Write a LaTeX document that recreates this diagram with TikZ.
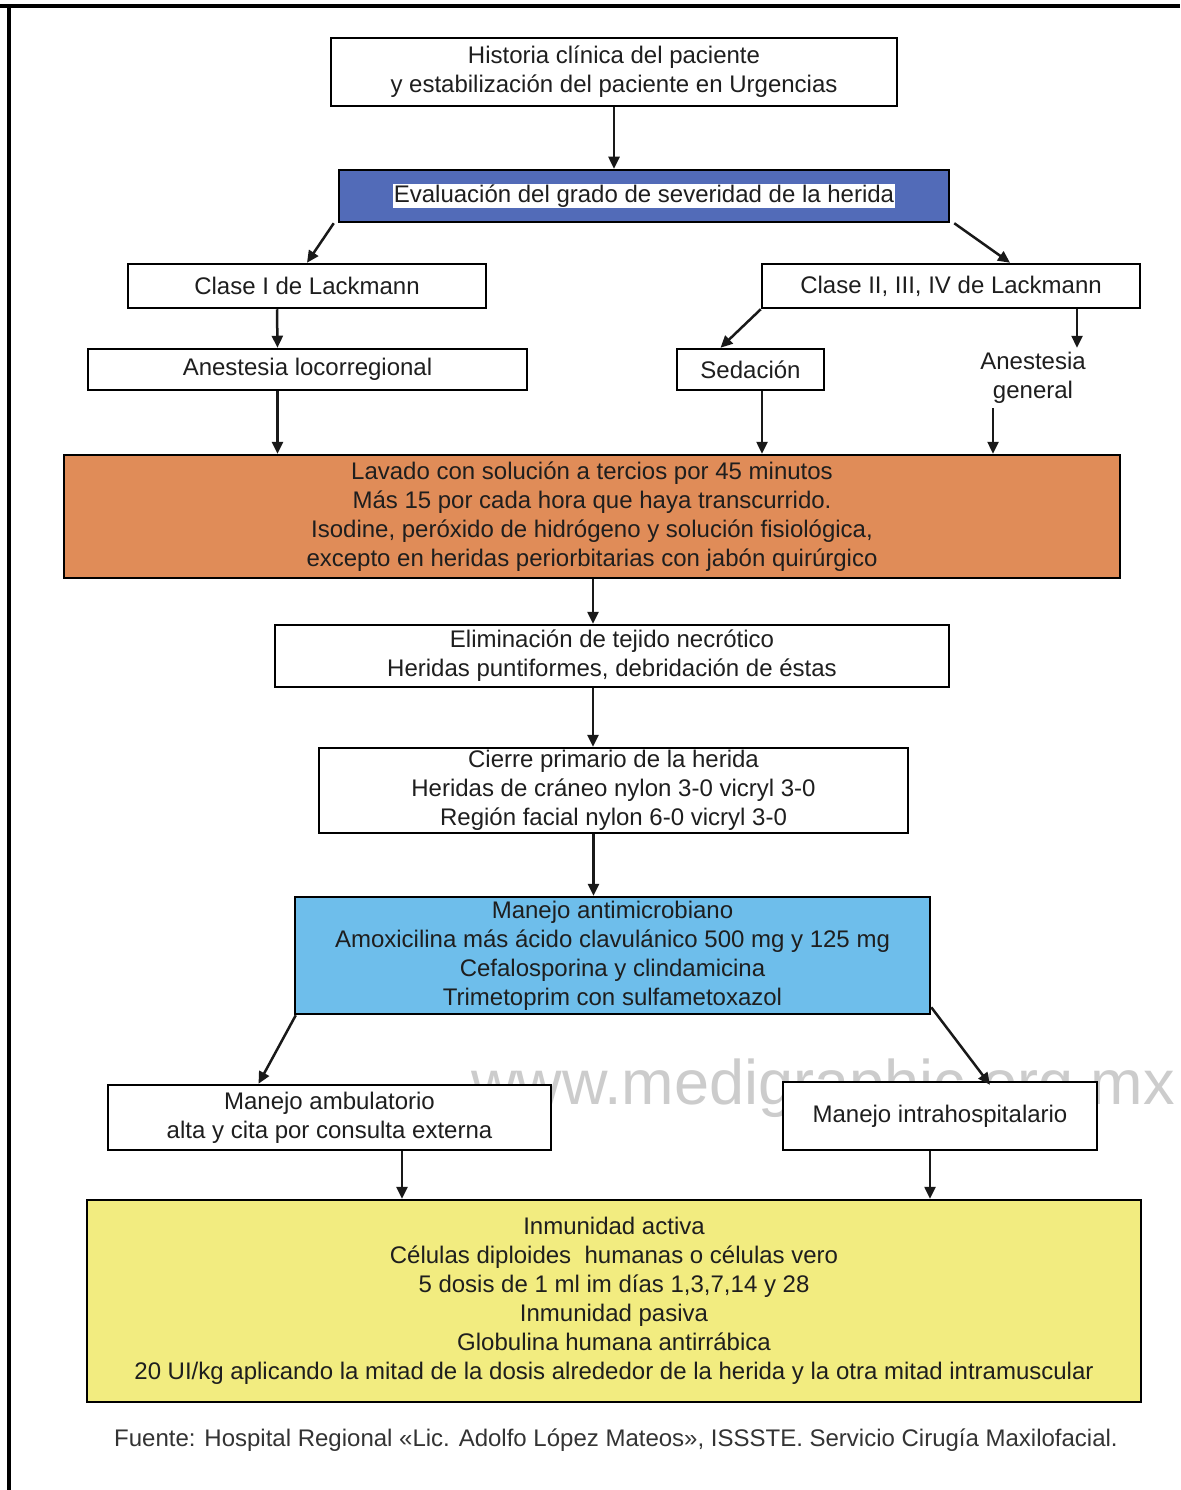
\documentclass[tikz,border=0pt]{standalone}
\usepackage{fontspec}
\setmainfont{Liberation Sans}
\usetikzlibrary{arrows.meta}
\definecolor{evblue}{RGB}{82,107,184}
\definecolor{lavorange}{RGB}{224,140,88}
\definecolor{manblue}{RGB}{110,190,235}
\definecolor{inmyellow}{RGB}{242,236,128}
\definecolor{txt}{RGB}{30,30,30}
\begin{document}
\begin{tikzpicture}[x=1pt,y=-1pt,
  box/.style={draw=black, line width=2.5pt, fill=white, align=center,
    font=\fontsize{24}{29}\selectfont, inner sep=0pt, text=txt},
  arr/.style={line width=2.5pt, draw=black!90, -{Triangle[length=12pt,width=11pt]}}]
\useasboundingbox (0,0) rectangle (1180,1490);
\fill[white] (0,0) rectangle (1180,1490);
\draw[line width=4pt] (0,6) -- (1180,6);
\draw[line width=4pt] (9,6) -- (9,1490);

% watermark
\node[text=black!20, font=\fontsize{63}{64}\selectfont, inner sep=0pt] (wm) at (823,1088) {www.medigraphic.org.mx};

\node[box, minimum width=566pt, minimum height=68pt] (h1) at (614,72)
  {Historia clínica del paciente\\y estabilización del paciente en Urgencias};
\node[box, fill=evblue, minimum width=610pt, minimum height=52pt] (ev) at (644,196)
  {\setlength{\fboxsep}{1pt}\colorbox{white}{Evaluación del grado de severidad de la herida}};
\node[box, minimum width=358pt, minimum height=44pt] (c1) at (307,286) {Clase I de Lackmann};
\node[box, minimum width=378pt, minimum height=44pt] (c2) at (951,286) {Clase II, III, IV de Lackmann};
\node[box, minimum width=439pt, minimum height=41pt] (al) at (307.5,369.5) {Anestesia locorregional};
\node[box, minimum width=147pt, minimum height=41pt] (sed) at (750.5,369.5) {Sedación};
\node[box, draw=none, fill=none, minimum height=58pt] (ag) at (1033,378) {Anestesia\\general};
\node[box, fill=lavorange, minimum width=1056pt, minimum height=123pt] (lav) at (592,516.5)
  {Lavado con solución a tercios por 45 minutos\\
   Más 15 por cada hora que haya transcurrido.\\
   Isodine, peróxido de hidrógeno y solución fisiológica,\\
   excepto en heridas periorbitarias con jabón quirúrgico};
\node[box, minimum width=674pt, minimum height=62pt] (eli) at (612,656)
  {Eliminación de tejido necrótico\\Heridas puntiformes, debridación de éstas};
\node[box, minimum width=589pt, minimum height=85pt] (cie) at (613.5,790.5)
  {Cierre primario de la herida\\Heridas de cráneo nylon 3-0 vicryl 3-0\\Región facial nylon 6-0 vicryl 3-0};
\node[box, fill=manblue, minimum width=635pt, minimum height=117pt] (man) at (612.5,955.5)
  {Manejo antimicrobiano\\Amoxicilina más ácido clavulánico 500 mg y 125 mg\\Cefalosporina y clindamicina\\Trimetoprim con sulfametoxazol};
\node[box, minimum width=443pt, minimum height=65pt] (amb) at (329.5,1117.5)
  {Manejo ambulatorio\\alta y cita por consulta externa};
\node[box, minimum width=314pt, minimum height=68pt] (intra) at (940,1116) {Manejo intrahospitalario};
\node[box, fill=inmyellow, minimum width=1054pt, minimum height=202pt] (inm) at (614,1301)
  {Inmunidad activa\\Células diploides\ \ humanas o células vero\\5 dosis de 1 ml im días 1,3,7,14 y 28\\Inmunidad pasiva\\Globulina humana antirrábica\\20 UI/kg aplicando la mitad de la dosis alrededor de la herida y la otra mitad intramuscular};
\node[font=\fontsize{24}{28}\selectfont, text=black!80, inner sep=0pt] (src) at (616,1440)
  {Fuente: Hospital Regional «Lic. Adolfo López Mateos», ISSSTE. Servicio Cirugía Maxilofacial.};

% connectors
\draw[arr] (h1.south) -- (h1.south |- ev.north);
\draw[arr] ([xshift=-4pt]ev.south west) -- (c1.north);
\draw[arr] ([xshift=4pt]ev.south east) -- ([xshift=59pt]c2.north);
\draw[arr] ([xshift=-30pt]c1.south) -- ([xshift=-30pt]al.north);
\draw[arr] (c2.south west) -- ([xshift=-30pt]sed.north);
\draw[arr] ([xshift=126pt]c2.south) -- ([xshift=126pt]c2.south |- ag.north);
\draw[arr] ([xshift=-30pt]al.south) -- ([xshift=-30pt]al.south |- lav.north);
\draw[arr] ([xshift=11.5pt]sed.south) -- ([xshift=11.5pt]sed.south |- lav.north);
\draw[arr] ([xshift=-40pt]ag.south) -- ([xshift=-40pt]ag.south |- lav.north);
\draw[arr] ([xshift=1pt]lav.south) -- ([xshift=1pt]lav.south |- eli.north);
\draw[arr] ([xshift=-19pt]eli.south) -- ([xshift=-19pt]eli.south |- cie.north);
\draw[arr] ([xshift=-20pt]cie.south) -- ([xshift=-20pt]cie.south |- man.north);
\draw[arr] ([xshift=2pt]man.south west) -- ([xshift=-71pt]amb.north);
\draw[arr] ([yshift=8pt]man.south east) -- ([xshift=50pt,yshift=-4pt]intra.north);
\draw[arr] ([xshift=72.5pt]amb.south) -- ([xshift=72.5pt]amb.south |- inm.north);
\draw[arr] ([xshift=-10pt]intra.south) -- ([xshift=-10pt]intra.south |- inm.north);
\end{tikzpicture}
\end{document}
